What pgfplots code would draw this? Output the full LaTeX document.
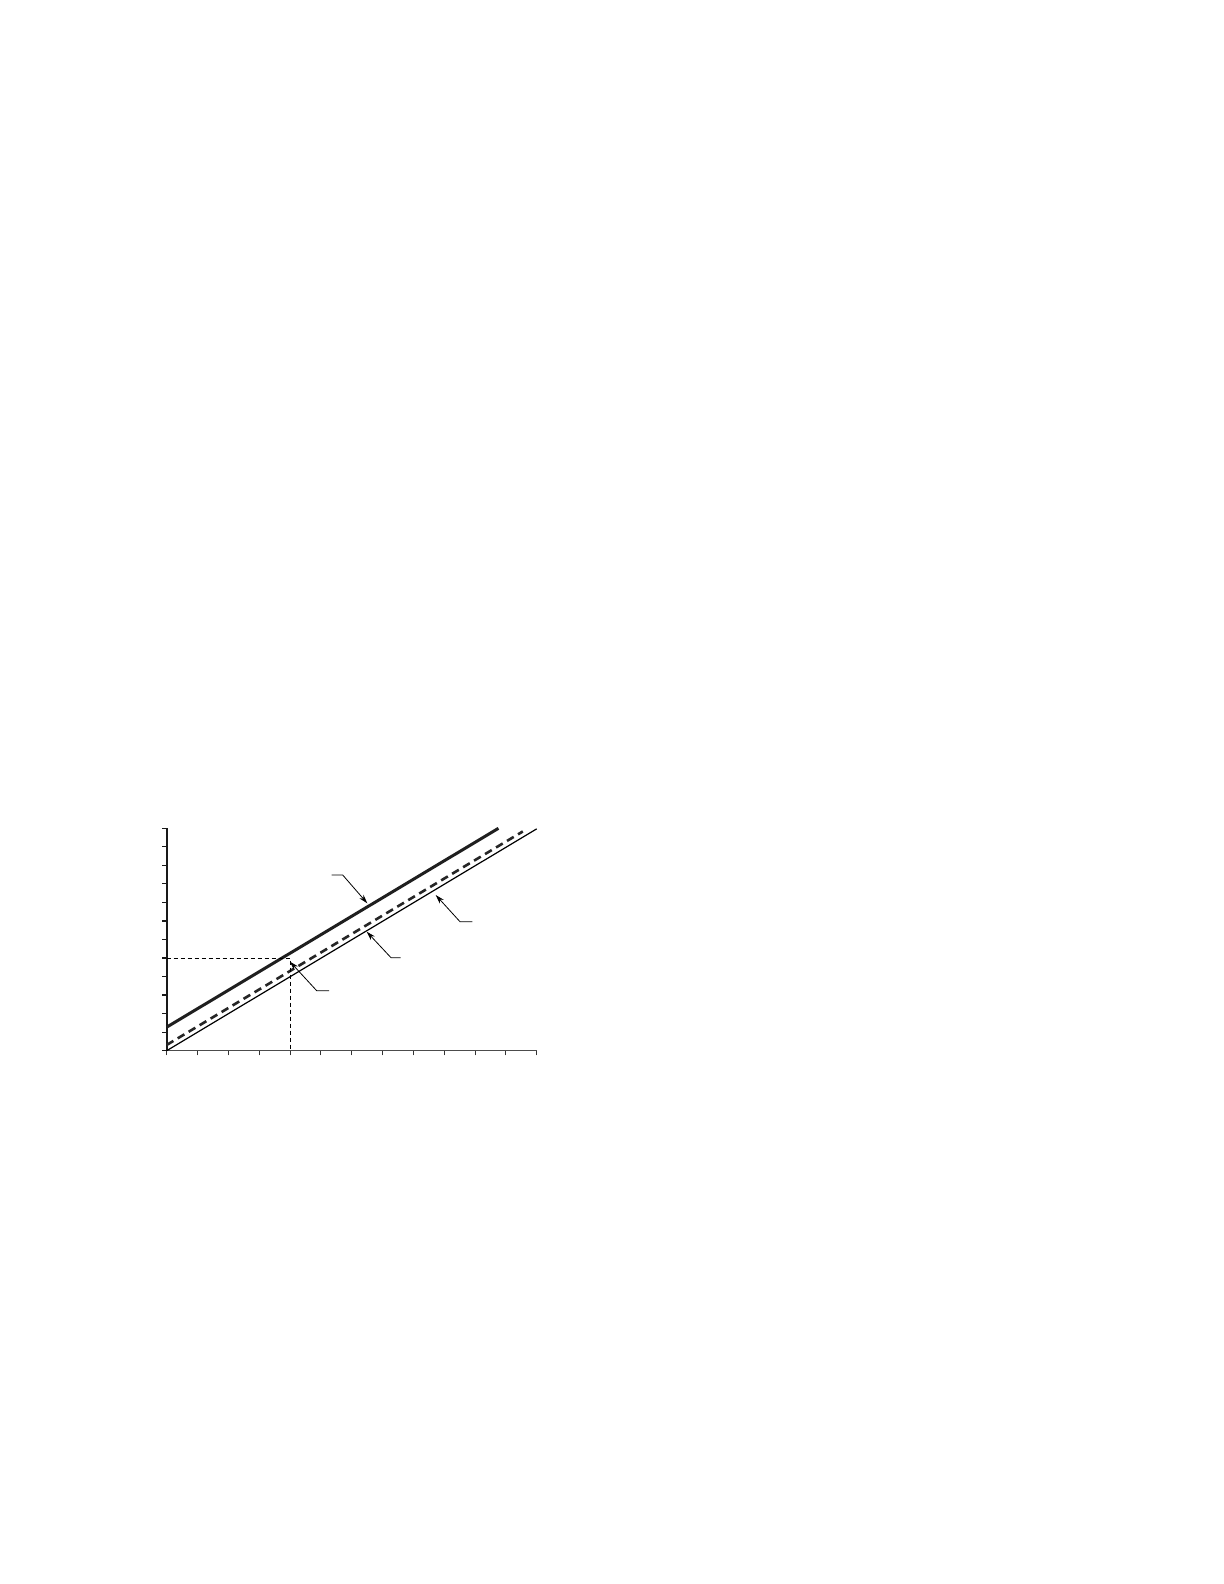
\documentclass[border=0pt]{standalone}
\usepackage{pgfplots}
\pgfplotsset{compat=1.18}
\usetikzlibrary{arrows.meta}
\begin{document}
\begin{tikzpicture}
\fill[white] (0,0) rectangle (612bp,792bp);
\begin{axis}[
  at={(83.35bp,266.65bp)}, anchor=south west,
  scale only axis, width=185bp, height=111.2bp,
  xmin=0, xmax=12, ymin=0, ymax=12,
  axis lines=left,
  x axis line style={-, line width=0.6bp, draw=black!70},
  y axis line style={-, line width=0.9bp, draw=black!90},
  xtick={0,...,12}, ytick={0,...,12},
  xticklabels={}, yticklabels={},
  tick align=outside, major tick length=2.3bp,
  x tick style={line width=0.5bp, black!80},
  y tick style={line width=0.6bp, black!90},
  clip=false,
]
\addplot[line width=1.5bp, black!88] coordinates {(0,1.27) (10.76,12.0)};
\addplot[line width=1.3bp, black!85, dash pattern=on 3.9bp off 2.5bp] coordinates {(0,0.31) (11.55,11.83)};
\addplot[line width=0.6bp, black] coordinates {(0,0) (12,11.97)};
\addplot[line width=0.4bp, black, dash pattern=on 2bp off 1.5bp] coordinates {(0,5) (4,5) (4,0)};
\draw[line width=0.4bp, -{Stealth[length=4.5bp,width=2.7bp]}] (axis cs:5.351,9.48) -- (axis cs:5.708,9.48) -- (axis cs:6.506,7.953);
\draw[line width=0.4bp, -{Stealth[length=4.5bp,width=2.7bp]}] (axis cs:9.911,6.961) -- (axis cs:9.512,6.961) -- (axis cs:8.724,8.401);
\draw[line width=0.4bp, -{Stealth[length=4.5bp,width=2.7bp]}] (axis cs:7.589,5.018) -- (axis cs:7.275,5.018) -- (axis cs:6.486,6.421);
\draw[line width=0.4bp, -{Stealth[length=4.5bp,width=2.7bp]}] (axis cs:5.264,3.237) -- (axis cs:4.865,3.237) -- (axis cs:3.999,4.802);
\end{axis}
\end{tikzpicture}
\end{document}
